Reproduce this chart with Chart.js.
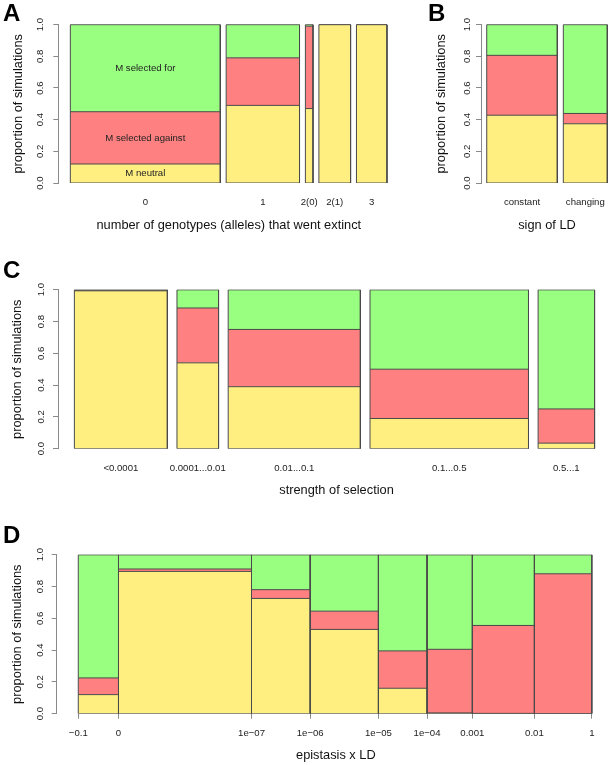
<!DOCTYPE html>
<html>
<head>
<meta charset="utf-8">
<script src="https://cdn.jsdelivr.net/npm/chart.js@4/dist/chart.umd.min.js"></script>
<style>
  html, body { margin:0; padding:0; background:#fff; width:611px; height:765px; overflow:hidden; position:relative; }
  canvas { position:absolute; }
</style>
</head>
<body>
<canvas id="chartA" width="420" height="244" style="left:0;top:1.7px"></canvas>
<canvas id="chartB" width="200" height="244" style="left:425px;top:1.7px"></canvas>
<canvas id="chartC" width="640" height="252" style="left:0;top:258.6px"></canvas>
<canvas id="chartD" width="640" height="252" style="left:0;top:523.6px"></canvas>
<script>
/* ---------- data (shares of simulations per bar, bar widths = share of runs) ---------- */
const yTickValues = [0, 0.2, 0.4, 0.6, 0.8, 1];
const outcomeNames = ["M neutral", "M selected against", "M selected for"];

// A: number of genotypes (alleles) that went extinct
const aCategories = ["0", "1", "2(0)", "2(1)", "3"];
const aWidths  = [0.511, 0.250, 0.026, 0.108, 0.104];
const aNeutral = [0.12, 0.49, 0.47, 1.00, 1.00];
const aAgainst = [0.33, 0.30, 0.52, 0.00, 0.00];
const aFor     = [0.55, 0.21, 0.01, 0.00, 0.00];

// B: sign of LD
const bCategories = ["constant", "changing"];
const bWidths  = [0.616, 0.384];
const bNeutral = [0.428, 0.374];
const bAgainst = [0.378, 0.065];
const bFor     = [0.194, 0.561];

// C: strength of selection
const cCategories = ["<0.0001", "0.0001...0.01", "0.01...0.1", "0.1...0.5", "0.5...1"];
const cWidths  = [0.193, 0.0863, 0.2744, 0.329, 0.1172];
const cNeutral = [0.993, 0.54, 0.39, 0.19, 0.035];
const cAgainst = [0.004, 0.345, 0.36, 0.31, 0.215];
const cFor     = [0.003, 0.115, 0.25, 0.50, 0.75];

// D: epistasis x LD (bins between tick labels)
const dTickLabels = ["\u22120.1", "0", "1e\u221207", "1e\u221206", "1e\u221205", "1e\u221204", "0.001", "0.01", "1"];
const dWidths  = [0.0783, 0.259, 0.1143, 0.1328, 0.0947, 0.0882, 0.1208, 0.1118];
const dNeutral = [0.12, 0.895, 0.725, 0.53, 0.16, 0.005, 0.002, 0.00];
const dAgainst = [0.105, 0.015, 0.055, 0.115, 0.235, 0.40, 0.553, 0.88];
const dFor     = [0.775, 0.09, 0.22, 0.355, 0.605, 0.595, 0.445, 0.12];

/* ---------- styling ---------- */
const COLORS = { neutral: "#FFEE80", against: "#FF8080", for: "#99FF80" };
const EDGE = "#4a4a4a", AXIS = "#8a8a8a", TEXT = "#222222";
Chart.defaults.font.family = "'Liberation Sans', Arial, Helvetica, sans-serif";
Chart.defaults.color = TEXT;

// bar spans along x: widths stacked with a gap between bars
function spans(widths, gap) {
  let x = 0;
  return widths.map(w => { const s = x; x += w + gap; return [s, s + w]; });
}
// one horizontal piece per bar, broken by null points so gaps stay empty
function levelPoints(bars, values) {
  const pts = [];
  bars.forEach(([s, e], i) => {
    if (i) pts.push({ x: (bars[i - 1][1] + s) / 2, y: null });
    pts.push({ x: s, y: values[i] }, { x: e, y: values[i] });
  });
  return pts;
}
// closed outline round each bar
function outlinePoints(bars, tops) {
  const pts = [];
  bars.forEach(([s, e], i) => {
    if (i) pts.push({ x: s, y: null });
    pts.push({ x: s, y: 0 }, { x: s, y: tops[i] }, { x: e, y: tops[i] }, { x: e, y: 0 }, { x: s, y: 0 });
  });
  return pts;
}

function panel(id, p) {
  const bars = spans(p.widths, p.gap);
  const cum1 = p.neutral.slice();
  const cum2 = p.neutral.map((v, i) => v + p.against[i]);
  const cum3 = cum2.map((v, i) => v + p.forSel[i]);
  const line = { borderColor: EDGE, borderWidth: 1, pointRadius: 0, pointHoverRadius: 0, tension: 0, spanGaps: false };
  const datasets = [
    { ...line, label: "outline", data: outlinePoints(bars, cum3), fill: false },
    { ...line, label: outcomeNames[0], data: levelPoints(bars, cum1), backgroundColor: COLORS.neutral, fill: "origin" },
    { ...line, label: outcomeNames[1], data: levelPoints(bars, cum2), backgroundColor: COLORS.against, fill: "-1" },
    { ...line, label: outcomeNames[2], data: levelPoints(bars, cum3), backgroundColor: COLORS.for, fill: "-1" },
  ];

  const xTitle = { display: true, text: p.xTitle, color: "#111", font: { size: 12.8 }, padding: { top: 0, bottom: p.xTitlePad } };
  const scales = {
    y: {
      type: "linear", min: 0, max: 1,
      afterBuildTicks: s => { s.ticks = yTickValues.map(v => ({ value: v })); },
      ticks: { minRotation: 90, maxRotation: 90, crossAlign: "center", padding: p.yLabelPad, font: { size: 9.6 }, color: TEXT, callback: v => v.toFixed(1) },
      grid: { drawOnChartArea: false, drawTicks: true, tickLength: 5, tickColor: AXIS },
      border: { display: true, color: AXIS, width: 1 },
      title: { display: true, text: "proportion of simulations", color: "#111", font: { size: 12.8 }, padding: { top: p.yTitlePad, bottom: 0 } },
      afterFit: s => { s.width = p.yAxisWidth; },
    },
  };

  if (p.categories) {
    // category names under the bar centres, no axis line
    scales.x = {
      type: "linear", position: "bottom", min: p.xMin, max: p.xMax,
      afterBuildTicks: s => { s.ticks = bars.map(([a, b]) => ({ value: (a + b) / 2 })); },
      ticks: { autoSkip: false, maxRotation: 0, minRotation: 0, padding: p.xLabelPad, font: { size: 9.6 }, color: TEXT, callback: (v, i) => p.categories[i] },
      grid: { display: false, drawTicks: false },
      border: { display: false },
      title: xTitle,
      afterFit: s => { s.height = p.xAxisHeight; },
    };
  } else {
    // numeric bin limits with tick marks
    const bounds = [bars[0][0], ...bars.map(b => b[1])];
    scales.x = {
      type: "linear", position: "bottom", min: p.xMin, max: p.xMax,
      afterBuildTicks: s => { s.ticks = bounds.map(v => ({ value: v })); },
      ticks: { autoSkip: false, maxRotation: 0, minRotation: 0, padding: p.xLabelPad, font: { size: 9.6 }, color: TEXT, callback: (v, i) => p.tickLabels[i] },
      grid: { drawOnChartArea: false, drawTicks: true, tickLength: 5, tickColor: AXIS, lineWidth: 1 },
      border: { display: false },
      title: xTitle,
      afterFit: s => { s.height = p.xAxisHeight; },
    };
  }

  const plugins = [];
  if (p.inside) {
    // outcome names written inside the first bar
    plugins.push({
      id: "insideLabels",
      afterDatasetsDraw(chart) {
        const { ctx, scales: { x, y } } = chart;
        const cx = x.getPixelForValue((bars[0][0] + bars[0][1]) / 2);
        const mids = [cum1[0] / 2, (cum1[0] + cum2[0]) / 2, (cum2[0] + cum3[0]) / 2];
        ctx.save();
        ctx.font = "9.6px " + Chart.defaults.font.family;
        ctx.fillStyle = "#222";
        ctx.textAlign = "center";
        ctx.textBaseline = "middle";
        p.inside.forEach((t, k) => ctx.fillText(t, cx, y.getPixelForValue(mids[k])));
        ctx.restore();
      },
    });
  }

  return new Chart(document.getElementById(id), {
    type: "line",
    data: { datasets },
    options: {
      responsive: false, animation: false, devicePixelRatio: 1,
      layout: { padding: { left: p.padLeft, right: p.padRight, top: 0, bottom: 0 } },
      plugins: {
        legend: { display: false },
        tooltip: { enabled: false },
        title: { display: true, text: p.letter, align: "start", color: "#000",
                 font: { size: 24, weight: "bold", lineHeight: 0.8 }, padding: { top: 3, bottom: p.letterGap } },
      },
      scales,
    },
    plugins,
  });
}

panel("chartA", {
  letter: "A", categories: aCategories, widths: aWidths, neutral: aNeutral, against: aAgainst, forSel: aFor,
  inside: outcomeNames, xTitle: "number of genotypes (alleles) that went extinct",
  gap: 0.02, xMin: -0.041, xMax: 1.121, padLeft: 3, padRight: 20.7, yAxisWidth: 55.3, xAxisHeight: 63,
  letterGap: 0.4, xLabelPad: 13.8, xTitlePad: 13.0, yTitlePad: 7.6, yLabelPad: 5.9,
});
panel("chartB", {
  letter: "B", categories: bCategories, widths: bWidths, neutral: bNeutral, against: bAgainst, forSel: bFor,
  xTitle: "sign of LD",
  gap: 0.0524, xMin: -0.05, xMax: 1.102, padLeft: 3, padRight: 12, yAxisWidth: 53, xAxisHeight: 63,
  letterGap: 0.4, xLabelPad: 13.8, xTitlePad: 13.0, yTitlePad: 6.0, yLabelPad: 2.1,
});
panel("chartC", {
  letter: "C", categories: cCategories, widths: cWidths, neutral: cNeutral, against: cAgainst, forSel: cFor,
  xTitle: "strength of selection",
  gap: 0.02, xMin: -0.034, xMax: 1.1223, padLeft: 3, padRight: 25, yAxisWidth: 55, xAxisHeight: 62.3,
  letterGap: 8.5, xLabelPad: 14.2, xTitlePad: 12.9, yTitlePad: 6.9, yLabelPad: 5.2,
});
panel("chartD", {
  letter: "D", tickLabels: dTickLabels, widths: dWidths, neutral: dNeutral, against: dAgainst, forSel: dFor,
  xTitle: "epistasis x LD",
  gap: 0, xMin: -0.042, xMax: 1.045, padLeft: 3, padRight: 25, yAxisWidth: 53.7, xAxisHeight: 62.3,
  letterGap: 8.5, xLabelPad: 8.6, xTitlePad: 12.9, yTitlePad: 6.9, yLabelPad: 4.2,
});
</script>
</body>
</html>
